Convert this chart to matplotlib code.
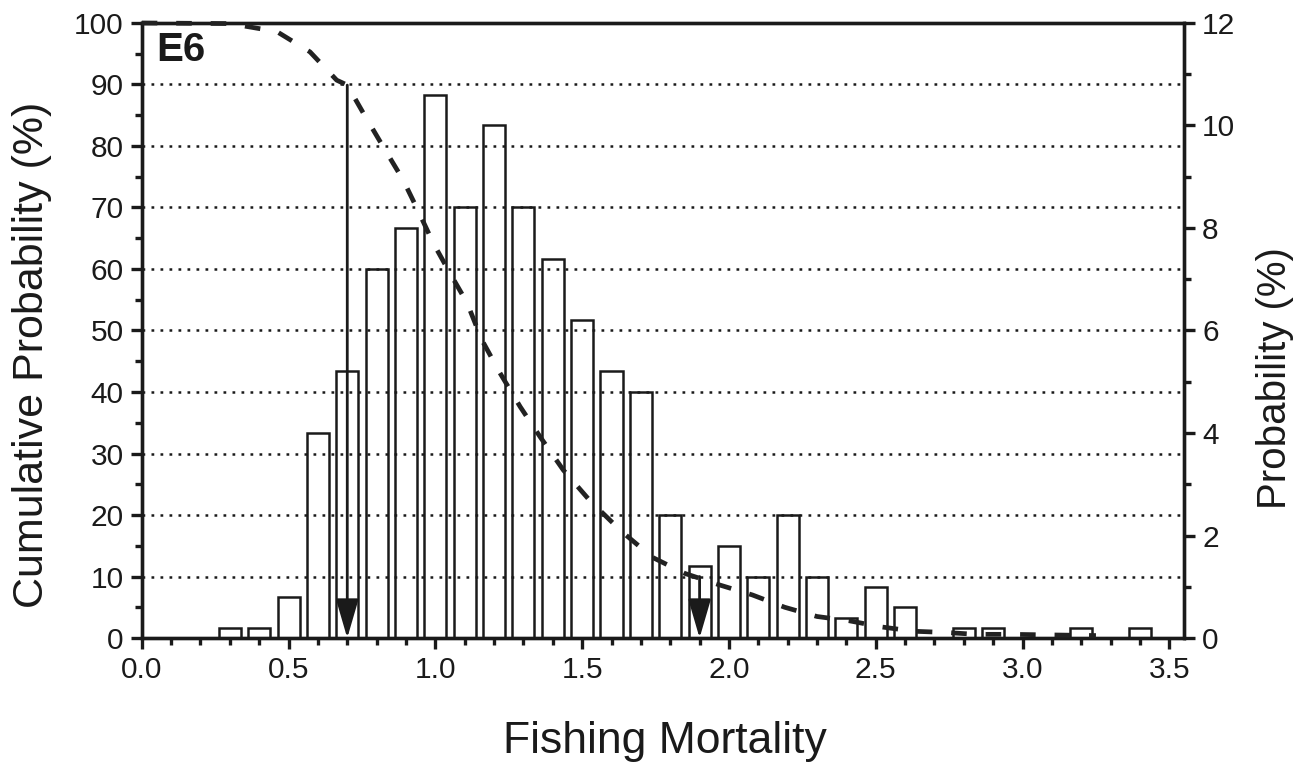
import matplotlib
matplotlib.use("Agg")
import matplotlib.pyplot as plt
from matplotlib.ticker import MultipleLocator, FormatStrFormatter

# ---- data ----
bin_centers = [0.3, 0.4, 0.5, 0.6, 0.7, 0.8, 0.9, 1.0, 1.1, 1.2, 1.3, 1.4, 1.5,
               1.6, 1.7, 1.8, 1.9, 2.0, 2.1, 2.2, 2.3, 2.4, 2.5, 2.6, 2.8, 2.9,
               3.2, 3.4]
probability = [0.2, 0.2, 0.8, 4.0, 5.2, 7.2, 8.0, 10.6, 8.4, 10.0, 8.4, 7.4, 6.2,
               5.2, 4.8, 2.4, 1.4, 1.8, 1.2, 2.4, 1.2, 0.4, 1.0, 0.6, 0.2, 0.2,
               0.2, 0.2]

curve_x = [0.0, 0.30, 0.46, 0.573, 0.664, 0.70, 0.754, 0.822, 0.89, 0.94, 0.993,
           1.05, 1.108, 1.158, 1.22, 1.289, 1.357, 1.436, 1.527, 1.635, 1.74,
           1.85, 1.97, 2.08, 2.19, 2.30, 2.41, 2.52, 2.63, 2.74, 2.84, 2.96,
           3.10, 3.25]
curve_cum = [100, 99.9, 98.6, 95.3, 90.7, 89.9, 85.4, 79.9, 74.5, 69.6, 64.2,
             59.3, 54.5, 48.5, 43.1, 37.6, 32.7, 27.3, 22.3, 17.3, 13.1,
             10.5, 8.6, 7.0, 5.0, 3.5, 2.8, 1.8, 1.1, 0.9, 0.6, 0.6,
             0.5, 0.4]

arrow_x = [0.7, 1.9]
arrow_top = [89.9, 10.0]

panel_label = "E6"
xlabel = "Fishing Mortality"
ylabel_left = "Cumulative Probability (%)"
ylabel_right = "Probability (%)"

# ---- style ----
plt.rcParams['font.family'] = ['Liberation Sans', 'DejaVu Sans']

fig = plt.figure(figsize=(13.04, 7.63), dpi=100)
fig.patch.set_facecolor('white')
ax = fig.add_axes([0.1087, 0.1638, 0.7993, 0.8061])
ax2 = ax.twinx()

ax.set_xlim(0, 3.55)
ax.set_ylim(0, 100)
ax2.set_ylim(0, 12)

# grid lines (dotted) at 10..90 on left axis
for gy in range(10, 100, 10):
    ax.axhline(gy, color='#1a1a1a', lw=1.8, linestyle=(0, (1.1, 2.5)), zorder=1)

# bars on right axis
ax2.bar(bin_centers, probability, width=0.075, facecolor='none',
        edgecolor='#1a1a1a', linewidth=1.8, zorder=2)

# dashed cumulative curve
ax.set_zorder(ax2.get_zorder() + 1)
ax.patch.set_visible(False)
ax.plot(curve_x, curve_cum, color='#222222', lw=3.4,
        linestyle=(0, (3.3, 4.0)), zorder=4, clip_on=False)

# arrows
for xa, ya in zip(arrow_x, arrow_top):
    ax.annotate('', xy=(xa, 0), xytext=(xa, ya),
                arrowprops=dict(arrowstyle='-|>,head_length=2.4,head_width=0.7',
                                lw=2.0, color='#1a1a1a', shrinkA=0, shrinkB=0,
                                mutation_scale=10),
                zorder=5)

# spines and ticks
for a in (ax, ax2):
    for s in a.spines.values():
        s.set_linewidth(2.4)
        s.set_color('#1a1a1a')

ax.xaxis.set_major_locator(MultipleLocator(0.5))
ax.xaxis.set_minor_locator(MultipleLocator(0.1))
ax.xaxis.set_major_formatter(FormatStrFormatter('%.1f'))
ax.yaxis.set_major_locator(MultipleLocator(10))
ax.yaxis.set_minor_locator(MultipleLocator(5))
ax2.yaxis.set_major_locator(MultipleLocator(2))
ax2.yaxis.set_minor_locator(MultipleLocator(1))

ax.tick_params(axis='both', which='major', direction='out', length=8, width=2.4,
               labelsize=21.5, pad=5, colors='#1a1a1a')
ax.tick_params(axis='both', which='minor', direction='out', length=5, width=2.4,
               colors='#1a1a1a')
ax2.tick_params(axis='y', which='major', direction='out', length=8, width=2.4,
                labelsize=21.5, pad=5, colors='#1a1a1a')
ax2.tick_params(axis='y', which='minor', direction='out', length=5, width=2.4,
                colors='#1a1a1a')

ax.set_xlabel(xlabel, fontsize=32, color='#1a1a1a')
ax.xaxis.set_label_coords(0.502, -0.135)
ax.set_ylabel(ylabel_left, fontsize=31, va='center', color='#1a1a1a')
ax.yaxis.set_label_coords(-0.105, 0.46)
ax2.set_ylabel(ylabel_right, fontsize=29, va='center', rotation=90, color='#1a1a1a')
ax2.yaxis.set_label_coords(1.087, 0.423)

ax.text(0.0135, 0.987, panel_label, transform=ax.transAxes, fontsize=29,
        fontweight='bold', ha='left', va='top', zorder=6, color='#1a1a1a')

fig.savefig('out.png', dpi=100, facecolor='white')
